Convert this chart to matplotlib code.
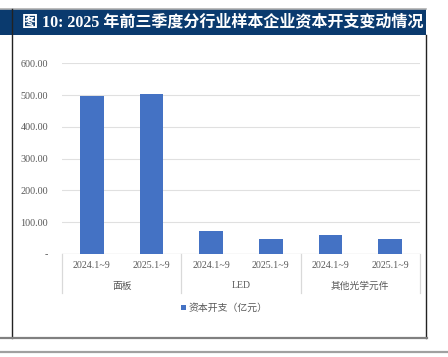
import matplotlib
matplotlib.use("Agg")
import matplotlib.pyplot as plt
from matplotlib.lines import Line2D
from matplotlib.patches import Rectangle
import matplotlib.transforms as mtransforms

title = "图 10: 2025 年前三季度分行业样本企业资本开支变动情况"
groups = ["面板", "LED", "其他光学元件"]
periods = ["2024.1~9", "2025.1~9"]
values = [498, 503, 71, 46, 59, 48]
yticks = [0, 100, 200, 300, 400, 500, 600]
ytick_labels = ["-", "100.00", "200.00", "300.00", "400.00", "500.00", "600.00"]
series_name = "资本开支（亿元）"

W, H = 448, 357
fig = plt.figure(figsize=(W / 100, H / 100), dpi=100)
fig.patch.set_facecolor("white")

def fx(px):
    return px / W

def fy(py):
    return 1 - py / H

mixed = ["Liberation Serif", "Noto Sans CJK SC"]
cjk = ["Noto Sans CJK SC", "DejaVu Sans"]

# header band
fig.patches.append(Rectangle((fx(0), fy(35)), fx(426), fy(9) - fy(35),
                             transform=fig.transFigure, facecolor="#0a3a6e",
                             edgecolor="none", zorder=0))
fig.lines.append(Line2D([fx(0), fx(426)], [fy(8.5), fy(8.5)], transform=fig.transFigure,
                        color="#b0b0b0", lw=1.2))
fig.text(fx(21.5), fy(22), title, color="white", fontsize=11.55, fontweight="bold",
         family=mixed, ha="left", va="center")

# frame lines
fig.lines.append(Line2D([fx(12), fx(12)], [fy(9), fy(338)], transform=fig.transFigure,
                        color="#222222", lw=1.0))
fig.lines.append(Line2D([fx(426), fx(426)], [fy(35), fy(338)], transform=fig.transFigure,
                        color="#222222", lw=1.0))
fig.lines.append(Line2D([fx(0), fx(426.5)], [fy(338), fy(338)], transform=fig.transFigure,
                        color="#808080", lw=1.6))
fig.lines.append(Line2D([fx(0), fx(448)], [fy(352), fy(352)], transform=fig.transFigure,
                        color="#a0a0a0", lw=1.6))

# axes
ax = fig.add_axes([fx(62), fy(254), fx(420) - fx(62), fy(63.3) - fy(254)])
x = list(range(len(values)))
bars = ax.bar(x, values, width=0.4, color="#4472C4", zorder=3, label=series_name)
ax.set_xlim(-0.5, len(values) - 0.5)
ax.set_ylim(0, 600)
ax.set_yticks(yticks)
ax.set_yticklabels(ytick_labels, family="Liberation Serif", fontsize=7.3, color="#595959")
ax.tick_params(axis="y", length=0, pad=10)
ax.set_xticks([])
for s in ax.spines.values():
    s.set_visible(False)
ax.grid(axis="y", color="#e0e0e0", lw=0.8, zorder=0)
ax.axhline(0, color="#d9d9d9", lw=0.9, zorder=2)

trans = mtransforms.blended_transform_factory(ax.transData, ax.transAxes)
ah = 254 - 63.3
def ay(py):
    return (254 - py) / ah

for sep in [-0.5, 1.5, 3.5, 5.5]:
    ax.add_line(Line2D([sep, sep], [0, ay(292.7)], transform=trans, color="#d9d9d9",
                       lw=0.9, clip_on=False))
for i in x:
    ax.text(i, ay(266), periods[i % 2], transform=trans, ha="center", va="center",
            family="Liberation Serif", fontsize=7.2, color="#595959")
for g, name in enumerate(groups):
    ax.text(2 * g + 0.5, ay(286), name, transform=trans, ha="center", va="center",
            family=mixed, fontsize=7.0, color="#595959")

leg = ax.legend(loc="center", bbox_to_anchor=((224 - 62) / 358, ay(308)), frameon=False,
                handlelength=0.55, handleheight=0.55, handletextpad=0.2,
                prop={"family": cjk, "size": 7.1})
for t in leg.get_texts():
    t.set_color("#595959")

fig.savefig("out.png", dpi=100)
